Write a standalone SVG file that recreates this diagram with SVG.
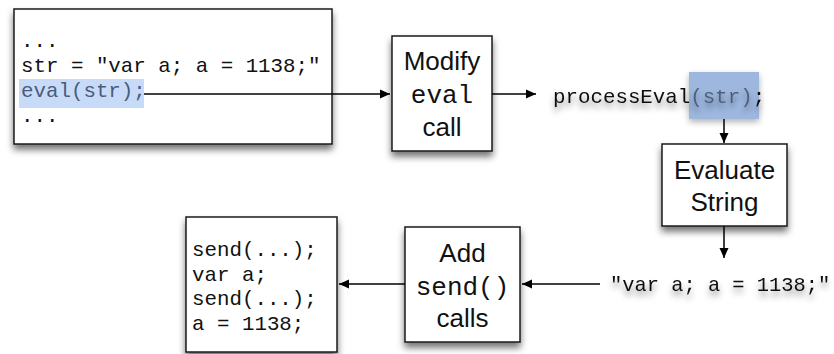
<svg xmlns="http://www.w3.org/2000/svg" width="834" height="354" viewBox="0 0 834 354">
<defs>
<filter id="boxShadow" x="-20%" y="-20%" width="140%" height="150%">
<feDropShadow dx="0" dy="5" stdDeviation="3.5" flood-color="#000" flood-opacity="0.55"/>
</filter>
<filter id="textShadow" x="-10%" y="-50%" width="120%" height="220%">
<feDropShadow dx="0" dy="5" stdDeviation="3" flood-color="#000" flood-opacity="0.45"/>
</filter>
<filter id="hlShadow" x="-30%" y="-30%" width="160%" height="170%">
<feDropShadow dx="0" dy="3" stdDeviation="3" flood-color="#000" flood-opacity="0.3"/>
</filter>
<marker id="arrow" viewBox="0 0 10 10" refX="10" refY="5" markerWidth="10" markerHeight="10" markerUnits="userSpaceOnUse" orient="auto">
<path d="M0,0.5 L10,5 L0,9.5 Z" fill="#000"/>
</marker>
</defs>
<style>
.box{fill:#fff;stroke:#1a1a1a;stroke-width:1.5;filter:url(#boxShadow);}
.mono{font-family:"Liberation Mono","Courier New",monospace;font-size:20.8px;fill:#111;}
.monoL{font-family:"Liberation Mono","Courier New",monospace;font-size:26px;fill:#111;text-anchor:middle;}
.sans{font-family:"Liberation Sans",Arial,sans-serif;font-size:26px;fill:#111;text-anchor:middle;}
.hl{fill:#4a5c7c;}
.conn{stroke:#000;stroke-width:1.5;fill:none;marker-end:url(#arrow);}
</style>

<g id="source-code">
<rect class="box" x="14" y="9" width="318" height="135"/>
<rect x="19" y="79" width="125" height="29" fill="#c7dbf8"/>
<text class="mono" x="21" y="47">...</text>
<text class="mono" x="21" y="72">str = "var a; a = 1138;"</text>
<text class="mono hl" x="21" y="97">eval(str);</text>
<text class="mono" x="21" y="122">...</text>
</g>

<g id="modify-eval-call">
<rect class="box" x="392" y="36" width="100" height="115"/>
<text class="sans" x="442" y="69.5">Modify</text>
<text class="monoL" x="442" y="103">eval</text>
<text class="sans" x="442" y="136">call</text>
</g>

<g id="process-eval">
<rect x="689" y="72" width="70" height="47" fill="#9db7df" filter="url(#hlShadow)"/>
<text class="mono" x="553" y="103" filter="url(#textShadow)">processEval<tspan fill="#4f5f7a">(str)</tspan>;</text>
</g>

<g id="evaluate-string">
<rect class="box" x="662" y="144" width="125" height="82"/>
<text class="sans" x="724.5" y="179">Evaluate</text>
<text class="sans" x="724.5" y="211">String</text>
</g>

<g id="string-value">
<text class="mono" x="610" y="291" style="font-size:20.4px" filter="url(#textShadow)">"var a; a = 1138;"</text>
</g>

<g id="add-send-calls">
<rect class="box" x="405" y="227" width="115" height="115"/>
<text class="sans" x="462.5" y="262">Add</text>
<text class="monoL" x="462.5" y="295">send()</text>
<text class="sans" x="462.5" y="327">calls</text>
</g>

<g id="result-code">
<rect class="box" x="186" y="217" width="151" height="135"/>
<text class="mono" x="192" y="256">send(...);</text>
<text class="mono" x="192" y="281">var a;</text>
<text class="mono" x="192" y="305">send(...);</text>
<text class="mono" x="192" y="330">a = 1138;</text>
</g>

<g id="connectors">
<line class="conn" x1="144" y1="94" x2="390" y2="94"/>
<line class="conn" x1="492" y1="94" x2="536" y2="94"/>
<line class="conn" x1="724" y1="119" x2="724" y2="143"/>
<line class="conn" x1="724" y1="226" x2="724" y2="258"/>
<line class="conn" x1="600" y1="284" x2="522" y2="284"/>
<line class="conn" x1="405" y1="284" x2="339" y2="284"/>
</g>
</svg>
